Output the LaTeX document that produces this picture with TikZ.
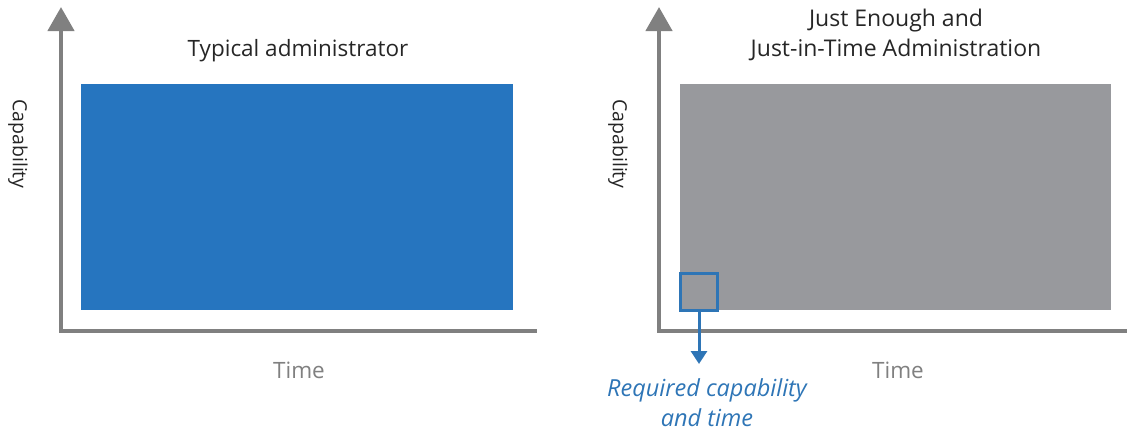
\documentclass[tikz,border=0pt]{standalone}
\usepackage{fontspec}
\setmainfont{Open Sans}
\usetikzlibrary{arrows.meta}
\definecolor{barblue}{RGB}{38,117,191}
\definecolor{bargray}{RGB}{152,153,157}
\definecolor{axisgray}{RGB}{128,128,128}
\definecolor{labelblue}{RGB}{46,117,182}
\definecolor{titletext}{RGB}{38,38,38}
\tikzset{
  axis/.style={draw=axisgray, line width=4.5pt, line join=miter,
    {Triangle[width=26pt,length=24pt]}-},
  title/.style={text=titletext, font=\fontsize{23}{30}\selectfont, align=center, inner sep=0pt, anchor=base},
  axlabel/.style={text=axisgray, font=\fontsize{22.5}{30}\selectfont, inner sep=0pt, anchor=base},
  ylabel/.style={text=titletext, font=\fontsize{19.5}{24}\selectfont, inner sep=0pt, rotate=-90},
  block/.style={draw=none, anchor=north west, inner sep=0pt},
  pointer/.style={draw=labelblue, line width=3pt, -{Triangle[width=16pt,length=13pt]}},
}
\begin{document}
\begin{tikzpicture}[x=1pt,y=-1pt]
\useasboundingbox (0,0) rectangle (1127,431);

% left chart: axes
\coordinate (ltip) at (61,7);
\coordinate (lorig) at (61,331);
\coordinate (lend) at (537,331);
\draw[axis] (ltip) -- (lorig) -- (lend);
\node[block, fill=barblue, minimum width=432pt, minimum height=226pt] (lbar) at (81,84) {};
\node[title, font=\fontsize{22.5}{30}\selectfont] (ltitle) at (298,56) {Typical administrator};
\node[ylabel] (lcap) at (18,144) {Capability};
\node[axlabel] (ltime) at (299,378) {Time};

% right chart: axes
\coordinate (rtip) at (659,7);
\coordinate (rorig) at (659,331);
\coordinate (rend) at (1127,331);
\draw[axis] (rtip) -- (rorig) -- (rend);
\node[block, fill=bargray, minimum width=431pt, minimum height=226pt] (rbar) at (680,84) {};
\node[title] (rtitle) at (896,56) {Just Enough and\\Just-in-Time Administration};
\node[ylabel] (rcap) at (618,144) {Capability};
\node[axlabel] (rtime) at (898,378) {Time};

% required slice of capability and time
\node[draw=labelblue, line width=3pt, fill=bargray, minimum width=37pt, minimum height=37pt, inner sep=0pt] (slice) at (699,292) {};
\node[text=labelblue, font=\fontsize{23.5}{30}\selectfont\itshape, align=center, inner sep=0pt, anchor=base] (req) at (707,426) {Required capability\\and time};
\coordinate (tipend) at (699,364);
\draw[pointer] (slice.south) -- (tipend);
\end{tikzpicture}
\end{document}
